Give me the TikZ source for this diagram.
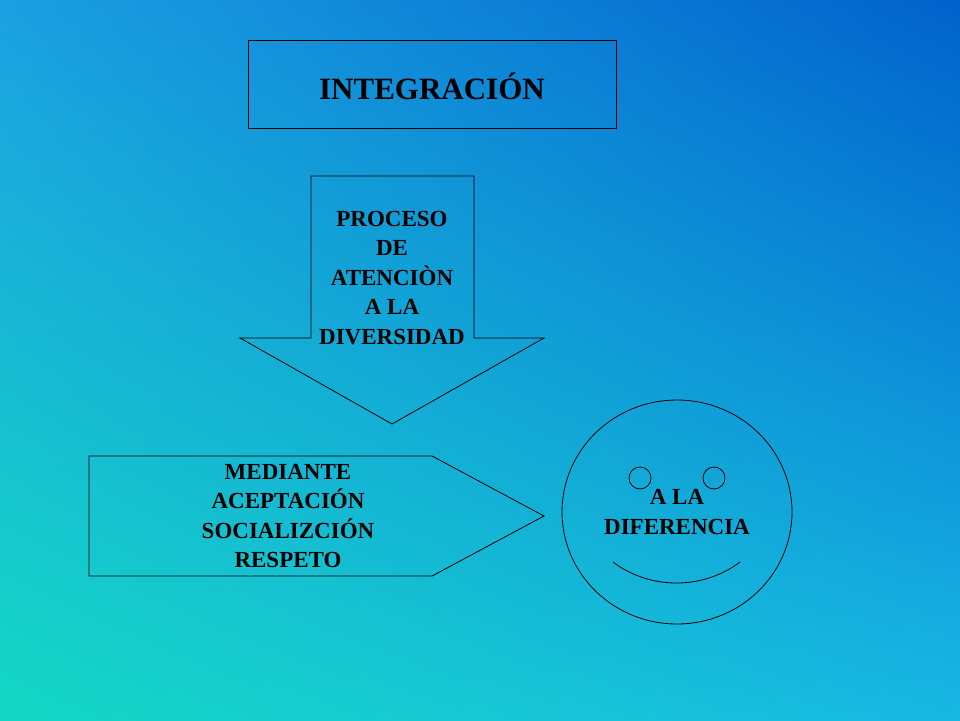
\documentclass[tikz,border=0pt]{standalone}
\usepackage{fontspec}
\setmainfont{Liberation Serif}
\usetikzlibrary{positioning,shadings}
\definecolor{bgTL}{HTML}{1BA0E2}
\definecolor{bgTR}{HTML}{0062CC}
\definecolor{bgBL}{HTML}{14D8C4}
\definecolor{bgBR}{HTML}{18B8E4}
\tikzset{
  shapeline/.style={draw=black,line width=0.8pt},
  boldtext/.style={font=\fontsize{23}{29.5}\selectfont\bfseries,align=center,inner sep=0pt},
  titletext/.style={font=\fontsize{31}{34}\selectfont\bfseries,inner sep=0pt},
}
\begin{document}
\begin{tikzpicture}[x=1pt,y=-1pt]
% background
\shade[upper left=bgTL,upper right=bgTR,lower left=bgBL,lower right=bgBR] (0,0) rectangle (960,720);
\useasboundingbox (0,0) rectangle (960,720);
% title box
\draw[shapeline] (248,40) rectangle (616,128);
\node[titletext] (title) at (432,86) {INTEGRACIÓN};
% down arrow
\draw[shapeline] (311,176) -- (474,176) -- (474,338) -- (544,338) -- (392,424)
  -- (240,338) -- (311,338) -- cycle;
\node[boldtext] (proceso) at (392,278) {PROCESO\\DE\\ATENCIÒN\\A LA\\DIVERSIDAD};
% right arrow
\draw[shapeline] (89,456) -- (432,456) -- (544,516) -- (432,576) -- (89,576) -- cycle;
\node[boldtext] (mediante) at (288,516) {MEDIANTE\\ACEPTACIÓN\\SOCIALIZCIÓN\\RESPETO};
% face
\draw[shapeline] (677,512) ellipse [x radius=115, y radius=112];
\draw[shapeline] (640,478) circle (11);
\draw[shapeline] (714,478) circle (11);
\draw[shapeline] (613,562) .. controls (650,590) and (703,590) .. (740,562);
\node[boldtext] (diferencia) at (677,512) {A LA\\DIFERENCIA};
\end{tikzpicture}
\end{document}
